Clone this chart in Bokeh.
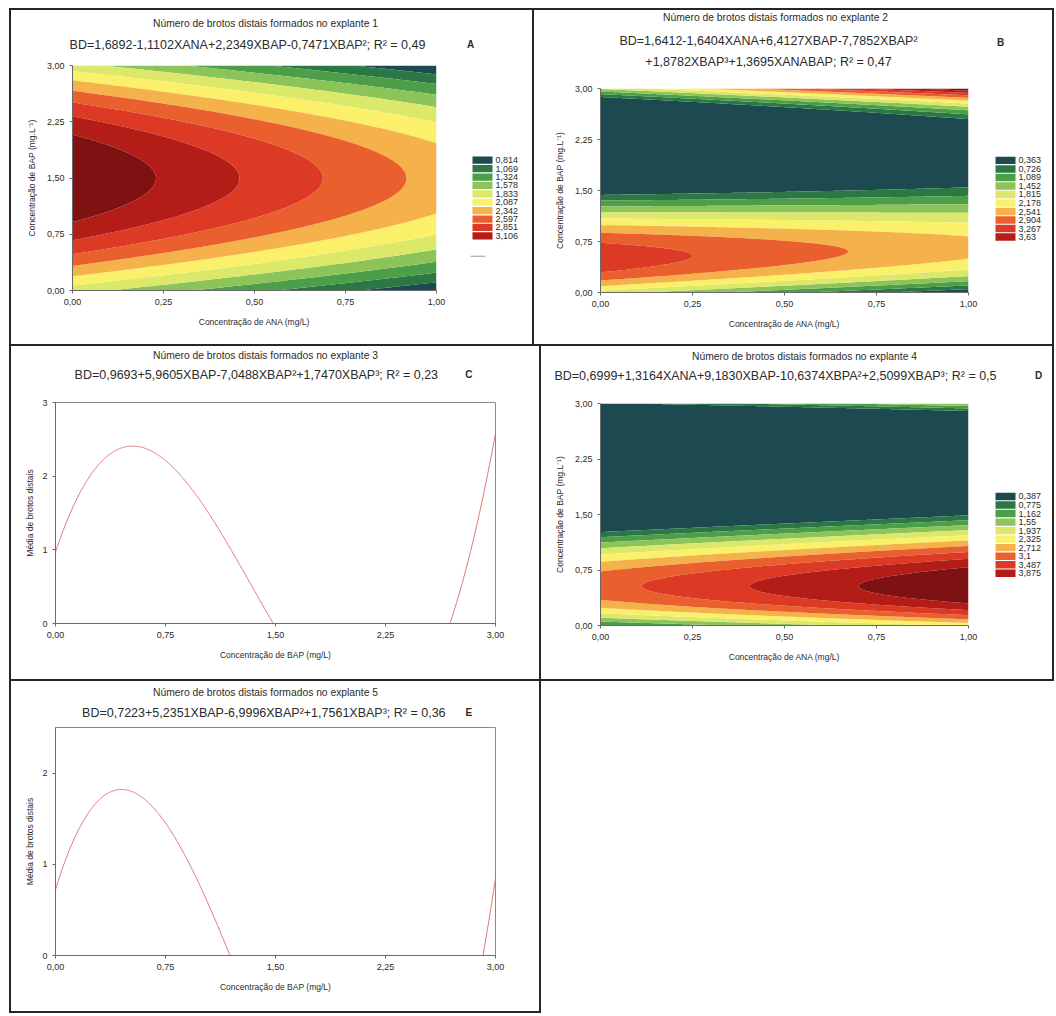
import numpy as np
from bokeh.plotting import figure
from bokeh.layouts import row, column
from bokeh.models import Div, Spacer, FixedTicker
from bokeh.core.properties import value
from bokeh.embed import file_html
from bokeh.resources import INLINE

FONT = "Liberation Sans"
INK = "#2b2b2b"
RULE = "#262626"

# Fitted response surfaces: BD = c0 + c1*ANA + c2*BAP + c3*BAP^2 + c4*BAP^3 + c5*ANA*BAP
coef_A = [1.6892, -1.1102, 2.2349, -0.7471, 0.0, 0.0]
coef_B = [1.6412, -1.6404, 6.4127, -7.7852, 1.8782, 1.3695]
coef_D = [0.6999, 1.3164, 9.1830, -10.6374, 2.5099, 0.0]

# Cubic fits in BAP only: BD = c0 + c1*BAP + c2*BAP^2 + c3*BAP^3
coef_C = [0.9693, 5.9605, -7.0488, 1.7470]
coef_E = [0.7223, 5.2351, -6.9996, 1.7561]

# Contour class limits shown in the legends
levels_A = [0.814, 1.069, 1.324, 1.578, 1.833, 2.087, 2.342, 2.597, 2.851, 3.106]
levels_B = [0.363, 0.726, 1.089, 1.452, 1.815, 2.178, 2.541, 2.904, 3.267, 3.63]
levels_D = [0.387, 0.775, 1.162, 1.55, 1.937, 2.325, 2.712, 3.1, 3.487, 3.875]
labels_A = ["0,814", "1,069", "1,324", "1,578", "1,833", "2,087", "2,342", "2,597", "2,851", "3,106"]
labels_B = ["0,363", "0,726", "1,089", "1,452", "1,815", "2,178", "2,541", "2,904", "3,267", "3,63"]
labels_D = ["0,387", "0,775", "1,162", "1,55", "1,937", "2,325", "2,712", "3,1", "3,487", "3,875"]

# Axis ticks
ana_ticks = [0.0, 0.25, 0.5, 0.75, 1.0]
ana_tick_labels = ["0,00", "0,25", "0,50", "0,75", "1,00"]
bap_ticks = [0.0, 0.75, 1.5, 2.25, 3.0]
bap_tick_labels = ["0,00", "0,75", "1,50", "2,25", "3,00"]
mean_ticks_C = [0, 1, 2, 3]
mean_ticks_E = [0, 1, 2]

titles = ["Número de brotos distais formados no explante %d" % i for i in range(1, 6)]
equations = {
    "A": ["BD=1,6892-1,1102XANA+2,2349XBAP-0,7471XBAP²; R² = 0,49"],
    "B": ["BD=1,6412-1,6404XANA+6,4127XBAP-7,7852XBAP²",
          "+1,8782XBAP³+1,3695XANABAP; R² = 0,47"],
    "C": ["BD=0,9693+5,9605XBAP-7,0488XBAP²+1,7470XBAP³; R² = 0,23"],
    "D": ["BD=0,6999+1,3164XANA+9,1830XBAP-10,6374XBPA²+2,5099XBAP³; R² = 0,5"],
    "E": ["BD=0,7223+5,2351XBAP-6,9996XBAP²+1,7561XBAP³; R² = 0,36"],
}

PALETTE = ["#1d4a50", "#2b7844", "#4c9e48", "#8cc45a", "#dbe86a", "#fbf06a",
           "#f5b24a", "#e9602e", "#dc3a24", "#b41c18", "#7e1212"]


def surface(c, ana, bap):
    return (c[0] + c[1] * ana + c[2] * bap + c[3] * bap ** 2 + c[4] * bap ** 3
            + c[5] * ana * bap)


def cubic(c, x):
    return c[0] + c[1] * x + c[2] * x ** 2 + c[3] * x ** 3


def sheet(w, h):
    """A bare drawing area measured in pixels from its top-left corner."""
    p = figure(width=w, height=h, x_range=(0, w), y_range=(h, 0), min_border=0,
               x_axis_type=None, y_axis_type=None, title=None,
               output_backend="svg", toolbar_location=None)
    p.outline_line_color = None
    return p


def write(p, x, y, s, size="10px", bold=False, align="center"):
    p.text(x=[x], y=[y], text=[s], text_font=value(FONT), text_font_size=size,
           text_color=INK, text_font_style="bold" if bold else "normal",
           text_align=align, text_baseline="middle")


def header(key, title, w, h, tx, ty, ex, ey, kx, ky, tsize="10.3px", esize="12.5px"):
    p = sheet(w, h)
    write(p, tx, ty, title, size=tsize)
    for i, line in enumerate(equations[key]):
        write(p, ex, ey + 21 * i, line, size=esize)
    write(p, kx, ky, key, size="10px", bold=True)
    return p


def style_axes(p, ylab_standoff):
    for ax in (p.xaxis[0], p.yaxis[0]):
        ax.axis_line_color = "#6a6a6a"
        ax.major_tick_line_color = "#6a6a6a"
        ax.major_tick_in = 0
        ax.major_tick_out = 3
        ax.minor_tick_line_color = None
        ax.major_label_text_font = FONT
        ax.major_label_text_font_size = "9px"
        ax.major_label_text_color = INK
        ax.axis_label_text_font = FONT
        ax.axis_label_text_font_size = "8.5px"
        ax.axis_label_text_font_style = "normal"
        ax.axis_label_text_color = INK
    p.xaxis[0].axis_label_standoff = 9
    p.yaxis[0].axis_label_standoff = ylab_standoff
    p.grid.visible = False


def body(w, h, left, top, fw, fh, xr, yr):
    p = figure(width=w, height=h, x_range=xr, y_range=yr, title=None,
               min_border_left=left, min_border_top=top,
               min_border_right=w - left - fw, min_border_bottom=h - top - fh,
               output_backend="svg", toolbar_location=None,
               background_fill_color="white", border_fill_color="white")
    p.outline_line_color = None
    return p


def contour_body(coef, levels, w, h, left, top, fw, fh):
    p = body(w, h, left, top, fw, fh, (0, 1), (0, 3))
    ana = np.linspace(0, 1, 201)
    bap = np.linspace(0, 3, 301)
    X, Y = np.meshgrid(ana, bap)
    Z = surface(coef, X, Y)
    lv = [min(Z.min(), levels[0]) - 1] + levels + [max(Z.max(), levels[-1]) + 1]
    p.contour(X, Y, Z, lv, fill_color=PALETTE, line_color=None)
    p.xaxis.ticker = FixedTicker(ticks=ana_ticks)
    p.xaxis.major_label_overrides = dict(zip(ana_ticks, ana_tick_labels))
    p.yaxis.ticker = FixedTicker(ticks=bap_ticks)
    p.yaxis.major_label_overrides = dict(zip(bap_ticks, bap_tick_labels))
    p.xaxis.axis_label = "Concentração de ANA (mg/L)"
    p.yaxis.axis_label = "Concentração de BAP (mg.L⁻¹)"
    style_axes(p, 7)
    return p


def key_box(labels, w, h, sx, sy, pitch, dash_y=None):
    """Colour key: one swatch per contour class, labelled with its limit."""
    p = sheet(w, h)
    idx = np.arange(len(labels))
    tops = sy + idx * pitch
    p.quad(left=sx, right=sx + 20, top=tops, bottom=tops + pitch - 1.5,
           fill_color=PALETTE[:len(labels)], line_color=None)
    p.text(x=sx + 23, y=tops + (pitch - 1.5) / 2, text=labels,
           text_font=value(FONT), text_font_size="9px", text_color=INK,
           text_baseline="middle")
    if dash_y is not None:
        p.segment(x0=[sx - 2], y0=[dash_y], x1=[sx + 13], y1=[dash_y],
                  line_color="#9a9a9a", line_width=1)
    return p


def curve_body(coef, ymax, yticks, w, h, left, top, fw, fh):
    p = body(w, h, left, top, fw, fh, (0, 3), (0, ymax))
    p.outline_line_color = "#8a8a8a"
    xs = np.linspace(0, 3, 601)
    p.line(xs, cubic(coef, xs), line_color="#e27676", line_width=1)
    p.xaxis.ticker = FixedTicker(ticks=bap_ticks)
    p.xaxis.major_label_overrides = dict(zip(bap_ticks, bap_tick_labels))
    p.yaxis.ticker = FixedTicker(ticks=yticks)
    p.xaxis.axis_label = "Concentração de BAP (mg/L)"
    p.yaxis.axis_label = "Média de brotos distais"
    style_axes(p, 4)
    return p


# Panel A (cell 521 x 334)
cellA = column(
    header("A", titles[0], 521, 45, 254, 13, 236, 34, 459, 34),
    row(contour_body(coef_A, levels_A, 445, 289, 61, 10, 364, 225),
        key_box(labels_A, 76, 289, 16, 117, 10.8, dash_y=245)),
)
# Panel B (cell 518 x 334)
cellB = column(
    header("B", titles[1], 518, 68, 241, 7, 234, 30, 466, 32),
    row(contour_body(coef_B, levels_B, 454, 266, 66, 10, 368, 204),
        key_box(labels_B, 64, 266, 7, 89, 11.1)),
)
# Panel C (cell 528 x 333)
cellC = column(
    header("C", titles[2], 528, 46, 252, 9, 241, 28, 496, 28),
    curve_body(coef_C, 3, mean_ticks_C, 528, 287, 44, 10, 440, 221),
)
# Panel D (cell 511 x 333)
cellD = column(
    header("D", titles[3], 511, 47, 263, 10, 234, 29, 497, 29),
    row(contour_body(coef_D, levels_D, 447, 286, 59, 10, 368, 222),
        key_box(labels_D, 64, 286, 7, 115, 11.0)),
)
# Panel E (cell 528 x 330)
cellE = column(
    header("E", titles[4], 528, 40, 252, 11, 250, 31, 496, 31),
    curve_body(coef_E, 2.5, mean_ticks_E, 528, 290, 44, 6, 440, 228),
)


def rule(w, h):
    return Div(width=w, height=h, margin=0, styles={"background-color": RULE})


layout = column(
    Spacer(height=8, width=1054),
    row(Spacer(width=9, height=2), rule(1045, 2)),
    row(Spacer(width=9, height=334), rule(2, 334), cellA, rule(2, 334), cellB, rule(2, 334)),
    row(Spacer(width=9, height=2), rule(1045, 2)),
    row(Spacer(width=9, height=333), rule(2, 333), cellC, rule(2, 333), cellD, rule(2, 333)),
    row(Spacer(width=9, height=2), rule(1045, 2)),
    row(Spacer(width=9, height=330), rule(2, 330), cellE, rule(2, 330)),
    row(Spacer(width=9, height=2), rule(532, 2)),
)

open("out.html", "w").write(file_html(layout, INLINE))
